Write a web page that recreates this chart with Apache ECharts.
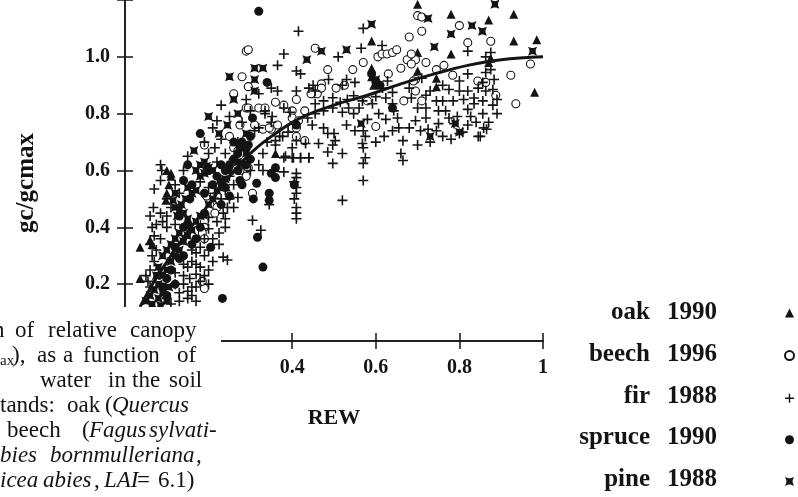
<!DOCTYPE html>
<html>
<head>
<meta charset="utf-8">
<script src="https://cdn.jsdelivr.net/npm/echarts@6/dist/echarts.min.js"></script>
<style>
  html, body { margin: 0; padding: 0; background: #fff; }
  #chart { width: 798px; height: 497px; }
</style>
</head>
<body>
<div id="chart"></div>
<script>
// values: [REW, gc/gcmax]
const oak = [
  [0.036, 0.33], [0.036, 0.22], [0.06, 0.355], [0.065, 0.34], [0.098, 0.495], [0.10, 0.52], [0.11, 0.58],
  [0.105, 0.55], [0.10, 0.60], [0.11, 0.59], [0.36, 0.66], [0.36, 0.61], [0.59, 1.056], [0.59, 0.96],
  [0.59, 0.93], [0.595, 0.90], [0.70, 1.185], [0.78, 1.15], [0.87, 1.13], [0.93, 1.15], [0.93, 1.056],
  [0.985, 1.06], [0.70, 1.015], [0.78, 1.01], [0.87, 0.98], [0.875, 0.995], [0.70, 0.95], [0.745, 0.925],
  [0.745, 0.895], [0.98, 0.875]
]
const beech = [
  [0.29, 1.02], [0.295, 1.025], [0.28, 0.93], [0.455, 1.03], [0.485, 0.955], [0.26, 0.87], [0.295, 0.895],
  [0.29, 0.82], [0.295, 0.82], [0.32, 0.82], [0.335, 0.82], [0.36, 0.84], [0.38, 0.83], [0.41, 0.85],
  [0.47, 0.905], [0.45, 0.87], [0.46, 0.87], [0.40, 0.81], [0.275, 0.76], [0.31, 0.76], [0.33, 0.745],
  [0.35, 0.745], [0.40, 0.75], [0.41, 0.75], [0.25, 0.72], [0.41, 0.72], [0.43, 0.705], [0.19, 0.69],
  [0.26, 0.68], [0.27, 0.67], [0.295, 0.61], [0.275, 0.6], [0.29, 0.58], [0.305, 0.52], [0.195, 0.51],
  [0.22, 0.49], [0.22, 0.47], [0.215, 0.45], [0.19, 0.42], [0.19, 0.40], [0.185, 0.38], [0.19, 0.36],
  [0.19, 0.185], [0.185, 0.21], [0.545, 0.955], [0.57, 0.98], [0.605, 1.0], [0.615, 1.01], [0.627, 1.01],
  [0.64, 1.015], [0.65, 1.025], [0.675, 0.99], [0.695, 0.99], [0.72, 0.98], [0.685, 0.975], [0.66, 0.96],
  [0.63, 0.94], [0.695, 0.92], [0.667, 0.845], [0.695, 0.88], [0.71, 0.845], [0.445, 0.87], [0.47, 0.89],
  [0.505, 0.89], [0.525, 0.90], [0.43, 0.81], [0.58, 0.845], [0.60, 0.755], [0.40, 0.785], [0.415, 0.775],
  [0.345, 0.75], [0.365, 0.76], [0.70, 1.145], [0.71, 1.14], [0.71, 1.09], [0.68, 1.07], [0.80, 1.11],
  [0.82, 1.05], [0.875, 1.055], [0.685, 1.01], [0.745, 0.955], [0.763, 0.97], [0.97, 0.975], [0.69, 0.915],
  [0.784, 0.935], [0.844, 0.915], [0.863, 0.91], [0.923, 0.935], [0.935, 0.835], [0.887, 0.865]
]
const fir = [
  // low REW, left of the curve
  [0.085, 0.62], [0.088, 0.6], [0.085, 0.565], [0.07, 0.535], [0.068, 0.47], [0.085, 0.45], [0.06, 0.44],
  [0.065, 0.40], [0.075, 0.41], [0.09, 0.42], [0.07, 0.37], [0.085, 0.36], [0.06, 0.34], [0.075, 0.32],
  [0.065, 0.3], [0.07, 0.28], [0.06, 0.25], [0.08, 0.24], [0.055, 0.21], [0.06, 0.19], [0.05, 0.23],
  [0.1, 0.4], [0.12, 0.41], [0.1, 0.44], [0.11, 0.47], [0.13, 0.52], [0.12, 0.55], [0.14, 0.6], [0.1, 0.5],
  // low REW, right of the curve
  [0.12, 0.24], [0.14, 0.23], [0.155, 0.22], [0.17, 0.235], [0.18, 0.21], [0.17, 0.19], [0.15, 0.175],
  [0.13, 0.17], [0.12, 0.2], [0.18, 0.26], [0.16, 0.28], [0.19, 0.3], [0.2, 0.32], [0.17, 0.31], [0.21, 0.28],
  [0.2, 0.25], [0.19, 0.23], [0.2, 0.2], [0.16, 0.19], [0.14, 0.2], [0.235, 0.295], [0.245, 0.285],
  [0.225, 0.34], [0.21, 0.36], [0.225, 0.38], [0.24, 0.4], [0.22, 0.42], [0.2, 0.435], [0.235, 0.45],
  [0.245, 0.47], [0.23, 0.5], [0.215, 0.52], [0.2, 0.54], [0.18, 0.56], [0.24, 0.53], [0.26, 0.55],
  [0.27, 0.505], [0.25, 0.5], [0.26, 0.47], [0.24, 0.43], [0.18, 0.33], [0.16, 0.32], [0.17, 0.27],
  [0.15, 0.26], [0.14, 0.27], [0.2, 0.395], [0.19, 0.36], [0.305, 0.425], [0.325, 0.39], [0.345, 0.48],
  [0.1, 0.15], [0.11, 0.13], [0.13, 0.14], [0.15, 0.15], [0.16, 0.16], [0.17, 0.14],
  // middle left
  [0.15, 0.65], [0.215, 0.68], [0.22, 0.775], [0.32, 0.87], [0.29, 0.85], [0.335, 0.80], [0.32, 0.75],
  [0.365, 0.97], [0.35, 0.89], [0.415, 1.09], [0.38, 1.01], [0.41, 0.95], [0.42, 0.94], [0.45, 0.90],
  [0.41, 0.88], [0.365, 0.88], [0.36, 0.69], [0.38, 0.645], [0.40, 0.645], [0.42, 0.645], [0.44, 0.645],
  [0.38, 0.595], [0.41, 0.59], [0.41, 0.575], [0.405, 0.56], [0.41, 0.54], [0.41, 0.52], [0.405, 0.50],
  [0.41, 0.47], [0.41, 0.45], [0.41, 0.43], [0.30, 0.72], [0.31, 0.74], [0.27, 0.7], [0.33, 0.66],
  [0.34, 0.7], [0.37, 0.72], [0.39, 0.735], [0.36, 0.705], [0.377, 0.72], [0.40, 0.68], [0.41, 0.705],
  [0.432, 0.695], [0.35, 0.77], [0.352, 0.79], [0.38, 0.82], [0.395, 0.805], [0.335, 0.81], [0.26, 0.64],
  [0.28, 0.62], [0.3, 0.6], [0.32, 0.62], [0.33, 0.6], [0.25, 0.58], [0.22, 0.63], [0.24, 0.66], [0.2, 0.66],
  [0.19, 0.7], [0.23, 0.71], [0.21, 0.75], [0.25, 0.79], [0.28, 0.77], [0.3, 0.81], [0.23, 0.83],
  // middle
  [0.57, 1.10], [0.565, 1.03], [0.51, 1.0], [0.615, 1.04], [0.53, 0.92], [0.55, 0.91], [0.52, 0.90],
  [0.487, 0.92], [0.44, 0.89], [0.455, 0.88], [0.455, 0.835], [0.475, 0.845], [0.497, 0.856], [0.515, 0.84],
  [0.532, 0.85], [0.547, 0.863], [0.568, 0.845], [0.535, 0.82], [0.547, 0.80], [0.52, 0.805], [0.497, 0.82],
  [0.475, 0.81], [0.455, 0.80], [0.437, 0.785], [0.448, 0.76], [0.475, 0.75], [0.485, 0.73], [0.50, 0.73],
  [0.503, 0.705], [0.497, 0.69], [0.463, 0.695], [0.485, 0.665], [0.52, 0.66], [0.497, 0.625], [0.44, 0.645],
  [0.42, 0.645], [0.403, 0.645], [0.384, 0.65], [0.57, 0.74], [0.575, 0.72], [0.568, 0.695], [0.57, 0.68],
  [0.575, 0.645], [0.57, 0.625], [0.57, 0.565], [0.52, 0.495], [0.655, 0.75], [0.665, 0.705], [0.66, 0.66],
  [0.665, 0.635], [0.64, 0.835], [0.643, 0.81], [0.652, 0.785], [0.624, 0.78], [0.607, 0.80], [0.592, 0.835],
  [0.624, 0.855], [0.64, 0.875], [0.616, 0.89], [0.628, 0.915], [0.53, 0.76], [0.55, 0.74], [0.6, 0.7],
  [0.62, 0.72], [0.64, 0.74], [0.58, 0.78], [0.56, 0.82], [0.6, 0.86],
  // right
  [0.82, 1.02], [0.863, 1.0], [0.875, 1.015], [0.863, 0.945], [0.875, 0.955], [0.883, 0.92], [0.856, 0.91],
  [0.80, 0.915], [0.82, 0.94], [0.775, 0.885], [0.76, 0.90], [0.80, 0.88], [0.82, 0.88], [0.845, 0.89],
  [0.863, 0.88], [0.88, 0.885], [0.72, 0.865], [0.745, 0.845], [0.76, 0.845], [0.785, 0.845], [0.81, 0.85],
  [0.835, 0.855], [0.856, 0.845], [0.72, 0.82], [0.75, 0.81], [0.767, 0.81], [0.82, 0.815], [0.835, 0.835],
  [0.775, 0.785], [0.795, 0.79], [0.827, 0.79], [0.856, 0.80], [0.72, 0.785], [0.75, 0.765], [0.745, 0.74],
  [0.787, 0.765], [0.808, 0.735], [0.858, 0.75], [0.845, 0.72], [0.695, 0.775], [0.68, 0.75], [0.707, 0.74],
  [0.725, 0.745], [0.70, 0.69], [0.685, 0.855], [0.68, 0.89], [0.71, 0.925], [0.85, 0.72], [0.865, 0.745],
  [0.80, 0.73], [0.88, 0.83], [0.89, 0.80], [0.87, 0.77], [0.76, 0.72], [0.78, 0.71], [0.73, 0.7],
  [0.82, 0.76], [0.84, 0.77], [0.7, 0.82], [0.73, 0.88], [0.89, 0.85]
]
const spruce = [
  [0.32, 1.16], [0.34, 0.91], [0.305, 0.785], [0.18, 0.73], [0.15, 0.62], [0.23, 0.62], [0.275, 0.68],
  [0.295, 0.69], [0.36, 0.61], [0.405, 0.55], [0.14, 0.565], [0.275, 0.565], [0.315, 0.555], [0.345, 0.52],
  [0.345, 0.495], [0.307, 0.50], [0.205, 0.33], [0.317, 0.365], [0.33, 0.26], [0.233, 0.15], [0.35, 0.59],
  [0.36, 0.575], [0.41, 0.76], [0.59, 0.94], [0.61, 0.9], [0.6, 0.915], [0.64, 0.82],
  [0.2, 0.6], [0.22, 0.58], [0.24, 0.6], [0.25, 0.62], [0.26, 0.64], [0.27, 0.66], [0.28, 0.7], [0.3, 0.72],
  [0.29, 0.68], [0.26, 0.7], [0.23, 0.56], [0.21, 0.55], [0.19, 0.52], [0.24, 0.54], [0.16, 0.55],
  [0.155, 0.5], [0.13, 0.44], [0.14, 0.4], [0.15, 0.41], [0.12, 0.33], [0.13, 0.29], [0.11, 0.25],
  [0.1, 0.22], [0.09, 0.19], [0.1, 0.16], [0.12, 0.2], [0.14, 0.3], [0.16, 0.34], [0.17, 0.36], [0.18, 0.4],
  [0.19, 0.45], [0.23, 0.48], [0.25, 0.51], [0.28, 0.55], [0.27, 0.6], [0.29, 0.62], [0.3, 0.64]
]
const pine = [
  [0.31, 0.96], [0.33, 0.96], [0.25, 0.93], [0.31, 0.92], [0.26, 0.85], [0.31, 0.88], [0.20, 0.79],
  [0.27, 0.80], [0.245, 0.76], [0.225, 0.73], [0.29, 0.73], [0.165, 0.67], [0.435, 0.99], [0.47, 1.02],
  [0.53, 1.025], [0.59, 1.115], [0.565, 0.765], [0.725, 1.135], [0.885, 1.185], [0.83, 1.11], [0.78, 1.08],
  [0.855, 1.09], [0.74, 1.035], [0.975, 1.02], [0.73, 0.72], [0.79, 0.765], [0.60, 0.92], [0.8, 0.735],
  [0.17, 0.6], [0.18, 0.62], [0.19, 0.63], [0.2, 0.61], [0.21, 0.6], [0.19, 0.59], [0.18, 0.58],
  [0.195, 0.615], [0.115, 0.495], [0.12, 0.47], [0.13, 0.46], [0.14, 0.45], [0.125, 0.44], [0.15, 0.43],
  [0.135, 0.48], [0.145, 0.5], [0.16, 0.52], [0.15, 0.54], [0.17, 0.53], [0.12, 0.52],
  [0.05, 0.14], [0.06, 0.16], [0.07, 0.18], [0.08, 0.2], [0.09, 0.23], [0.1, 0.25], [0.11, 0.28], [0.12, 0.3],
  [0.13, 0.32], [0.14, 0.35], [0.15, 0.37], [0.16, 0.39], [0.17, 0.42], [0.18, 0.44], [0.2, 0.48], [0.21, 0.5],
  [0.22, 0.53], [0.23, 0.55], [0.24, 0.57], [0.25, 0.6], [0.27, 0.63], [0.29, 0.66], [0.065, 0.13],
  [0.08, 0.15], [0.09, 0.17], [0.1, 0.14], [0.105, 0.19], [0.085, 0.125], [0.1, 0.32], [0.11, 0.34],
  [0.09, 0.3], [0.12, 0.36], [0.13, 0.38], [0.08, 0.26], [0.075, 0.23]
]
// fitted curve
const fit = [
  [0.036, 0.12], [0.07, 0.21], [0.11, 0.30], [0.15, 0.385], [0.2, 0.48], [0.25, 0.58], [0.3, 0.66],
  [0.35, 0.72], [0.42, 0.785], [0.5, 0.83], [0.58, 0.865], [0.66, 0.905], [0.74, 0.94], [0.82, 0.97],
  [0.9, 0.99], [1.0, 1.0]
]
const standNames = ['oak', 'beech', 'fir', 'spruce', 'pine']
const standYears = ['1990', '1996', '1988', '1990', '1988']
const seriesNames = standNames.map((n, i) => n + ' ' + standYears[i])
const xMax = 1
const yMax = 1.2

const INK = '#141414'
const SERIF = 'Liberation Serif'
const PLUS = 'path://M4.2,0h1.6v4.2h4.2v1.6h-4.2v4.2h-1.6v-4.2h-4.2v-1.6h4.2z'
const STAR = 'path://M0,0L3,1.2L5,1.2L8,0L6.8,3L6.8,5L8,8L5,6.8L3,6.8L0,8L1.2,5L1.2,3Z'

// caption fragment that overlaps the lower-left corner of the plot
const captionLines = [
  [['n', -7], ['of', 15], ['relative', 48], ['canopy', 130]],
  [['ax', 0, 'sub'], ['),', 12], ['as', 37], ['a', 63], ['function', 83], ['of', 177]],
  [['water', 40], ['in', 108], ['the', 132], ['soil', 169]],
  [['tands:', 0], ['oak', 67], ['(', 105], ['Quercus', 112, 'i']],
  [['beech', 7], ['(', 82], ['Fagus', 89, 'i'], ['sylvati-', 149, 'i']],
  [['bies', 0, 'i'], ['bornmulleriana', 50, 'i'], [',', 196]],
  [['icea', 0, 'i'], ['abies', 43, 'i'], [',', 94], ['LAI', 104, 'i'], ['=', 137], ['6.1)', 158]]
]

const overlayEls = [{
  type: 'rect', z: 100, shape: { x: 0, y: 307, width: 221, height: 190 }, style: { fill: '#fff' }
}]
captionLines.forEach((words, i) => {
  words.forEach(w => {
    overlayEls.push({
      type: 'text', z: 101, x: w[1], y: 331 + i * 25 + (w[2] === 'sub' ? 5 : 0),
      style: {
        text: w[0], fill: INK, fontFamily: SERIF,
        fontSize: w[2] === 'sub' ? 15 : 23,
        fontStyle: w[2] === 'i' ? 'italic' : 'normal',
        align: 'left', verticalAlign: 'middle'
      }
    })
  })
})

// legend labels: names right aligned, years in a column; icons come from the legend
const legendRowY = [313, 354.6, 396.2, 437.8, 479.4]
standNames.forEach((n, i) => {
  overlayEls.push({
    type: 'text', x: 650, y: legendRowY[i],
    style: { text: n, fill: INK, fontFamily: SERIF, fontWeight: 'bold', fontSize: 25,
      align: 'right', verticalAlign: 'middle' }
  }, {
    type: 'text', x: 667, y: legendRowY[i],
    style: { text: standYears[i], fill: INK, fontFamily: SERIF, fontWeight: 'bold', fontSize: 25,
      align: 'left', verticalAlign: 'middle' }
  })
})

const axisCommon = {
  type: 'value',
  min: 0,
  interval: 0.2,
  axisLine: { show: true, lineStyle: { color: INK, width: 1.5 } },
  axisTick: { show: true, inside: true, length: 8, lineStyle: { color: INK, width: 1.5 } },
  splitLine: { show: false }
}
const labelStyle = { color: INK, fontFamily: SERIF, fontWeight: 'bold', fontSize: 20 }

const chart = echarts.init(document.getElementById('chart'))
chart.setOption({
  animation: false,
  backgroundColor: '#fff',
  grid: { left: 125, right: 255, top: 0, bottom: 156 },
  xAxis: [
    { ...axisCommon, max: xMax, position: 'bottom',
      axisLabel: { ...labelStyle, margin: 17, showMinLabel: false } },
    { ...axisCommon, max: xMax, position: 'top', axisLabel: { show: false } }
  ],
  yAxis: [
    { ...axisCommon, max: yMax, position: 'left',
      axisLabel: { ...labelStyle, margin: 15, formatter: v => (v > 1.1 || v === 0) ? '' : v.toFixed(1) } },
    { ...axisCommon, max: yMax, position: 'right', axisLabel: { show: false } }
  ],
  legend: {
    orient: 'vertical', left: 784, top: 308.5, padding: 0,
    itemWidth: 9, itemHeight: 9, itemGap: 32.6,
    selectedMode: false,
    data: seriesNames,
    formatter: () => ' ',
    textStyle: { fontSize: 8, lineHeight: 9 }
  },
  graphic: [
    { type: 'text', x: 27, y: 183, rotation: Math.PI / 2,
      style: { text: 'gc/gcmax', fill: INK, fontFamily: SERIF, fontWeight: 'bold', fontSize: 25,
        align: 'center', verticalAlign: 'middle' } },
    { type: 'text', x: 334, y: 418,
      style: { text: 'REW', fill: INK, fontFamily: SERIF, fontWeight: 'bold', fontSize: 22,
        align: 'center', verticalAlign: 'middle' } },
    ...overlayEls
  ],
  series: [
    { name: seriesNames[0], type: 'scatter', data: oak, symbol: 'triangle', symbolSize: 9,
      itemStyle: { color: INK, opacity: 1 } },
    { name: seriesNames[1], type: 'scatter', data: beech, symbol: 'circle', symbolSize: 8,
      itemStyle: { color: '#fff', borderColor: INK, borderWidth: 1.1, opacity: 1 } },
    { name: seriesNames[2], type: 'scatter', data: fir, symbol: PLUS, symbolSize: 10,
      itemStyle: { color: INK, opacity: 1 } },
    { name: seriesNames[3], type: 'scatter', data: spruce, symbol: 'circle', symbolSize: 9,
      itemStyle: { color: INK, opacity: 1 } },
    { name: seriesNames[4], type: 'scatter', data: pine, symbol: STAR, symbolSize: 9,
      itemStyle: { color: INK, opacity: 1 } },
    { name: 'fit', type: 'line', data: fit, smooth: 0.4, showSymbol: false, z: 5,
      lineStyle: { color: INK, width: 3 } }
  ]
})
</script>
</body>
</html>
